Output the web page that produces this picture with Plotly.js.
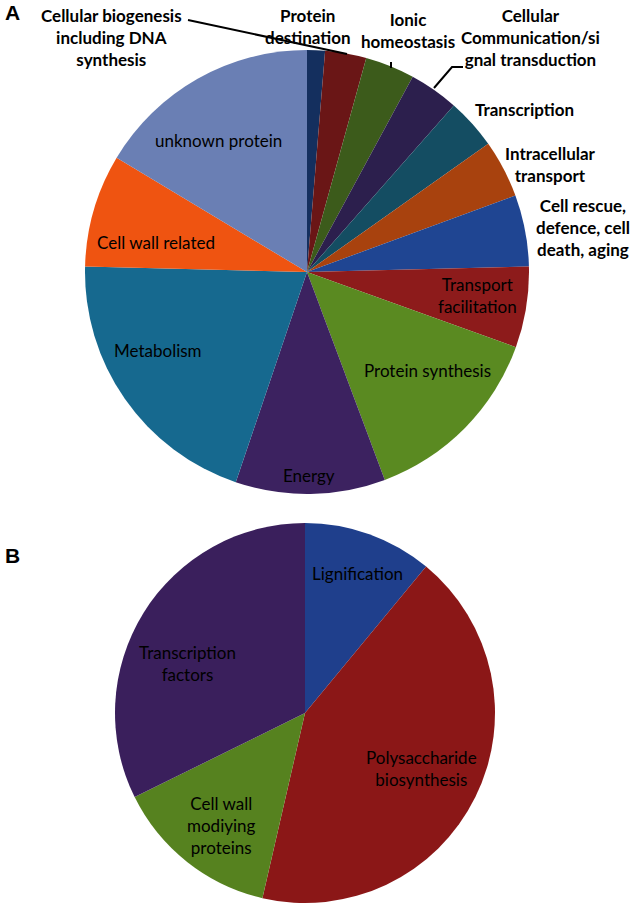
<!DOCTYPE html>
<html>
<head>
<meta charset="utf-8">
<script src="https://cdn.plot.ly/plotly-3.0.1.min.js"></script>
<style>html,body{margin:0;padding:0;background:#fff;}#chart{width:633px;height:906px;}</style>
</head>
<body>
<div id="chart"></div>
<script>
// Panel A: functional categories (percent of genes)
const categoriesA = [
  "Cellular biogenesis including DNA synthesis",
  "Protein destination",
  "Ionic homeostasis",
  "Cellular Communication/signal transduction",
  "Transcription",
  "Intracellular transport",
  "Cell rescue, defence, cell death, aging",
  "Transport facilitation",
  "Protein synthesis",
  "Energy",
  "Metabolism",
  "Cell wall related",
  "unknown protein"
];
const valuesA = [1.3, 3.0, 3.6, 3.6, 3.7, 4.2, 5.2, 5.9, 13.8, 10.9, 20.2, 8.2, 16.4];
const colorsA = ["#142f5e", "#6a1616", "#3c5b1b", "#2c1f4d", "#144d62", "#a8420e", "#1f4592",
                 "#8d1b1b", "#5a8a21", "#3c2260", "#16698f", "#ef5411", "#6a7fb4"];

// Panel B: cell wall related genes
const categoriesB = ["Lignification", "Polysaccharide biosynthesis", "Cell wall modiying proteins", "Transcription factors"];
const valuesB = [11.0, 42.6, 14.1, 32.3];
const colorsB = ["#1f3f8c", "#8b1717", "#56821f", "#3a1f5c"];

const W = 633, H = 906;
const px = x => x / W;
const py = y => 1 - y / H;

const traces = [
  {
    type: "pie", labels: categoriesA, values: valuesA, sort: false, direction: "clockwise",
    rotation: 0, textinfo: "none", hoverinfo: "label+value",
    marker: {colors: colorsA, line: {width: 0}},
    domain: {x: [px(85), px(529)], y: [py(494), py(50)]}, showlegend: false
  },
  {
    type: "pie", labels: categoriesB, values: valuesB, sort: false, direction: "clockwise",
    rotation: 0, textinfo: "none", hoverinfo: "label+value",
    marker: {colors: colorsB, line: {width: 0}},
    domain: {x: [px(115), px(495)], y: [py(903), py(523)]}, showlegend: false
  }
];

const fam = "Lato, 'Open Sans', sans-serif";
const inFont = {family: fam, size: 17, color: "#000"};
const outFont = {family: fam, size: 17, color: "#000", weight: "bold"};
function ann(text, x, y, font) {
  return {text: text, x: px(x), y: py(y), xref: "paper", yref: "paper",
          xanchor: "center", yanchor: "middle", showarrow: false, font: font};
}
const annotations = [
  {text: "<b>A</b>", x: px(3), y: py(13), xref: "paper", yref: "paper", xanchor: "left", yanchor: "middle",
   showarrow: false, font: {family: "Arial, 'Liberation Sans', sans-serif", size: 21, color: "#000"}},
  {text: "<b>B</b>", x: px(3), y: py(555), xref: "paper", yref: "paper", xanchor: "left", yanchor: "middle",
   showarrow: false, font: {family: "Arial, 'Liberation Sans', sans-serif", size: 21, color: "#000"}},
  ann("Cellular biogenesis<br>including DNA<br>synthesis", 111, 38, outFont),
  ann("Protein<br>destination", 308, 26, outFont),
  ann("Ionic<br>homeostasis", 408, 31, outFont),
  ann("Cellular<br>Communication/si<br>gnal transduction", 530, 38, outFont),
  ann("Transcription", 524, 109, outFont),
  ann("Intracellular<br>transport", 550, 165, outFont),
  ann("Cell rescue,<br>defence, cell<br>death, aging", 583, 227, outFont),
  ann("Transport<br>facilitation", 477, 295, inFont),
  ann("Protein synthesis", 428, 370, inFont),
  ann("Energy", 309, 475, inFont),
  ann("Metabolism", 158, 350, inFont),
  ann("Cell wall related", 156, 243, inFont),
  ann("unknown protein", 218, 140, inFont),
  ann("Lignification", 357, 573, inFont),
  ann("Polysaccharide<br>biosynthesis", 421, 768, inFont),
  ann("Cell wall<br>modiying<br>proteins", 221, 825, inFont),
  ann("Transcription<br>factors", 188, 663, inFont)
];

function path(pts) {
  return pts.map((p, i) => (i ? "L" : "M") + px(p[0]).toFixed(5) + "," + py(p[1]).toFixed(5)).join(" ");
}
const shapes = [
  {type: "path", xref: "paper", yref: "paper", path: path([[188, 20], [347, 54]]), line: {color: "#000", width: 2}},
  {type: "path", xref: "paper", yref: "paper", path: path([[391, 62], [391, 68]]), line: {color: "#000", width: 2}},
  {type: "path", xref: "paper", yref: "paper", path: path([[434, 88], [452, 67], [463, 67]]), line: {color: "#000", width: 2}}
];

Plotly.newPlot("chart", traces, {
  width: W, height: H, margin: {l: 0, r: 0, t: 0, b: 0},
  paper_bgcolor: "#fff", plot_bgcolor: "#fff",
  annotations: annotations, shapes: shapes
}, {displayModeBar: false, staticPlot: true});
</script>
</body>
</html>
